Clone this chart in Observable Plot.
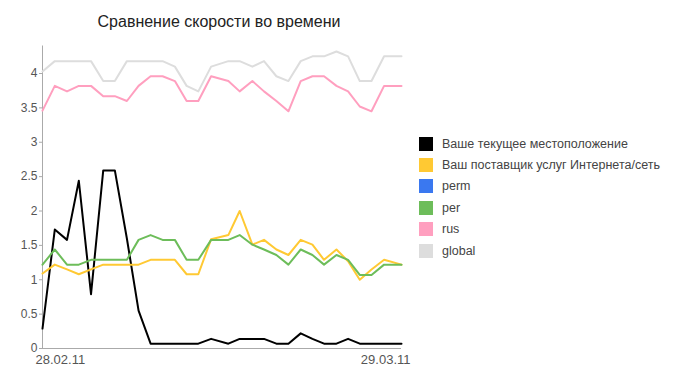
<!DOCTYPE html>
<html>
<head>
<meta charset="utf-8">
<script src="https://cdn.jsdelivr.net/npm/d3@7"></script>
<script src="https://cdn.jsdelivr.net/npm/@observablehq/plot@0.6"></script>
<style>
  html, body { margin: 0; padding: 0; background: #fff; }
  #wrap { position: relative; width: 688px; height: 378px; font-family: "Liberation Sans", Arial, sans-serif; }
  #title { position: absolute; z-index: 2; left: 0; top: 12px; width: 438px; text-align: center; font-size: 16px; line-height: 20px; color: #222; }
  #legend { position: absolute; z-index: 2; left: 419px; top: 133px; }
  .row { display: flex; align-items: center; height: 21.4px; }
  .sw { width: 14px; height: 14px; margin-right: 9px; }
  .lab { font-size: 12.5px; color: #444; white-space: nowrap; }
</style>
</head>
<body>
<div id="wrap">
  <div id="chart"></div>
  <div id="title">Сравнение скорости во времени</div>
  <div id="legend"></div>
</div>
<script>
const dates = [
  "2011-02-28T00:00", "2011-02-28T23:50", "2011-03-01T23:30", "2011-03-02T22:25", "2011-03-03T22:05",
  "2011-03-04T21:45", "2011-03-05T20:15", "2011-03-06T19:35", "2011-03-07T18:15", "2011-03-08T17:35",
  "2011-03-09T16:50", "2011-03-10T16:40", "2011-03-11T15:25", "2011-03-12T14:05", "2011-03-13T14:55",
  "2011-03-15T00:20", "2011-03-15T22:15", "2011-03-16T22:55", "2011-03-17T21:25", "2011-03-18T21:25",
  "2011-03-19T20:45", "2011-03-20T20:35", "2011-03-21T19:20", "2011-03-22T17:50", "2011-03-23T17:55",
  "2011-03-24T16:25", "2011-03-25T15:05", "2011-03-26T13:50", "2011-03-27T14:15", "2011-03-29T00:00"
];
const seriesNames = ["Ваше текущее местоположение", "Ваш поставщик услуг Интернета/сеть", "perm", "per", "rus", "global"];
const seriesColors = ["#000000", "#ffc933", "#3a78f0", "#6dbd5a", "#ff9fbf", "#dddddd"];

const current = [0.29, 1.73, 1.58, 2.44, 0.79, 2.59, 2.59, 1.6, 0.55, 0.07,
                 0.07, 0.07, 0.07, 0.07, 0.14, 0.07, 0.14, 0.14, 0.14, 0.07,
                 0.07, 0.22, 0.14, 0.07, 0.07, 0.14, 0.07, 0.07, 0.07, 0.07];
const isp     = [1.09, 1.22, 1.15, 1.08, 1.15, 1.22, 1.22, 1.22, 1.22, 1.29,
                 1.29, 1.29, 1.08, 1.08, 1.59, 1.65, 2.0, 1.51, 1.58, 1.44,
                 1.36, 1.58, 1.51, 1.29, 1.44, 1.27, 1.0, 1.15, 1.29, 1.22];
const perm    = [];
const per     = [1.22, 1.44, 1.22, 1.22, 1.29, 1.29, 1.29, 1.29, 1.58, 1.65,
                 1.58, 1.58, 1.29, 1.29, 1.58, 1.58, 1.65, 1.51, 1.44, 1.36,
                 1.22, 1.44, 1.36, 1.22, 1.36, 1.29, 1.07, 1.07, 1.22, 1.22];
const rus     = [3.46, 3.82, 3.74, 3.82, 3.82, 3.67, 3.67, 3.6, 3.82, 3.96,
                 3.96, 3.89, 3.6, 3.6, 3.96, 3.89, 3.74, 3.89, 3.74, 3.6,
                 3.45, 3.89, 3.96, 3.96, 3.82, 3.74, 3.52, 3.45, 3.82, 3.82];
const global  = [4.03, 4.18, 4.18, 4.18, 4.18, 3.89, 3.89, 4.18, 4.18, 4.18,
                 4.18, 4.1, 3.82, 3.74, 4.1, 4.18, 4.18, 4.1, 4.18, 3.96,
                 3.89, 4.18, 4.25, 4.25, 4.32, 4.25, 3.89, 3.89, 4.25, 4.25];
const yTicks = [0, 0.5, 1, 1.5, 2, 2.5, 3, 3.5, 4];
const xTickLabels = ["28.02.11", "29.03.11"];

const parse = s => new Date(s + ":00Z");
const allValues = [current, isp, perm, per, rus, global];
const rows = [];
allValues.forEach((vals, k) => {
  vals.forEach((v, i) => rows.push({date: parse(dates[i]), value: v, series: seriesNames[k]}));
});
const first = parse(dates[0]);
const last = parse(dates[dates.length - 1]);

const chart = Plot.plot({
  width: 688,
  height: 378,
  marginLeft: 42,
  marginRight: 287,
  marginTop: 45.5,
  marginBottom: 30,
  style: {fontFamily: "'Liberation Sans', Arial, sans-serif", background: "transparent"},
  x: {type: "utc", domain: [first, last], axis: null},
  y: {domain: [0, 4.4], axis: null},
  color: {domain: seriesNames, range: seriesColors},
  marks: [
    Plot.ruleY([0], {stroke: "#aaa"}),
    Plot.ruleX([first], {stroke: "#aaa"}),
    Plot.axisY({ticks: yTicks, tickSize: 3, tickPadding: 2, tickFormat: d => String(d), label: null,
                stroke: "#aaa", fill: "#555", fontSize: 12}),
    Plot.line(rows, {x: "date", y: "value", z: "series", stroke: "series", strokeWidth: 2, curve: "linear"}),
    Plot.text([{d: first, t: xTickLabels[0]}], {x: "d", y: () => 0, text: "t", textAnchor: "start",
                dx: -7, dy: 11, fill: "#555", fontSize: 13}),
    Plot.text([{d: last, t: xTickLabels[1]}], {x: "d", y: () => 0, text: "t", textAnchor: "end",
                dx: 9, dy: 11, fill: "#555", fontSize: 13})
  ]
});
chart.style.position = "absolute";
chart.style.left = "0px";
chart.style.top = "0px";
document.getElementById("chart").appendChild(chart);

const legend = document.getElementById("legend");
seriesNames.forEach((n, k) => {
  const row = document.createElement("div");
  row.className = "row";
  const sw = document.createElement("div");
  sw.className = "sw";
  sw.style.background = seriesColors[k];
  const lab = document.createElement("div");
  lab.className = "lab";
  lab.textContent = n;
  row.appendChild(sw);
  row.appendChild(lab);
  legend.appendChild(row);
});
</script>
</body>
</html>
